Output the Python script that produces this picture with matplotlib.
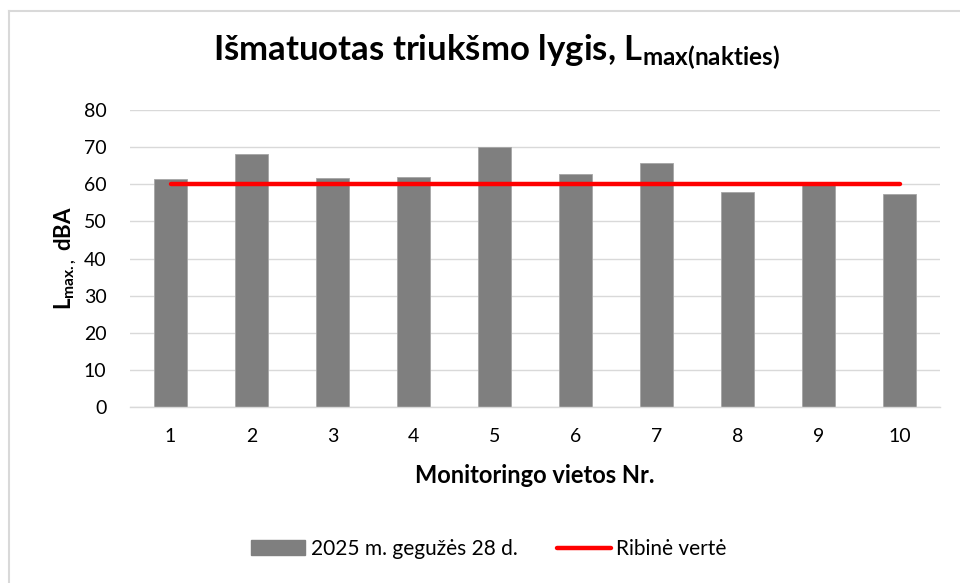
import matplotlib
matplotlib.use("Agg")
import matplotlib.pyplot as plt
from matplotlib.lines import Line2D

plt.rcParams['font.family'] = ['Lato', 'DejaVu Sans']
plt.rcParams['mathtext.fontset'] = 'custom'
plt.rcParams['mathtext.rm'] = 'Lato'
plt.rcParams['mathtext.bf'] = 'Lato:bold'
plt.rcParams['mathtext.it'] = 'Lato:italic'

categories = ['1', '2', '3', '4', '5', '6', '7', '8', '9', '10']
measured = [61.5, 68.1, 61.7, 62.0, 69.9, 62.8, 65.8, 57.8, 60.2, 57.4]
limit = [60, 60, 60, 60, 60, 60, 60, 60, 60, 60]
yticks = [0, 10, 20, 30, 40, 50, 60, 70, 80]

W, H = 960, 583
fig = plt.figure(figsize=(W / 100, H / 100), dpi=100)
ax = fig.add_axes([130 / W, 1 - 407 / H, 810 / W, 297 / H])

x = list(range(len(categories)))
ax.bar(x, measured, width=0.40, color='#7f7f7f', edgecolor='#a6a6a6', linewidth=0.6, zorder=2,
       label='2025 m. gegužės 28 d.')
ax.plot(x, limit, color='#ff0000', linewidth=3.2, solid_capstyle='round', zorder=3, label='Ribinė vertė')

ax.set_xlim(-0.5, len(categories) - 0.5)
ax.set_ylim(0, 80)
ax.set_yticks(yticks)
ax.set_xticks(x)
ax.set_xticklabels(categories)
ax.tick_params(axis='both', length=0, labelsize=14, colors='black')
ax.tick_params(axis='y', pad=17)
ax.tick_params(axis='x', pad=15)
ax.grid(axis='y', color='#d9d9d9', linewidth=1.0, zorder=0)
ax.set_axisbelow(True)
for s in ['top', 'right', 'left']:
    ax.spines[s].set_visible(False)
ax.spines['bottom'].set_color('#d9d9d9')
ax.spines['bottom'].set_linewidth(1.0)

ax.set_xlabel('Monitoringo vietos Nr.', fontsize=17, fontweight='bold', labelpad=14)
ax.set_ylabel(r'L$_{\mathbf{max.,}}$ dBA', fontsize=16, fontweight='bold', labelpad=4)

fig.text(496 / W, 1 - 52 / H, r'Išmatuotas triukšmo lygis, L$_{\mathbf{max(nakties)}}$',
         ha='center', va='center', fontsize=25, fontweight='bold')

handles = [plt.Rectangle((0, 0), 1, 1, color='#7f7f7f'),
           Line2D([0], [0], color='#ff0000', linewidth=3.2, solid_capstyle='round')]
fig.legend(handles, ['2025 m. gegužės 28 d.', 'Ribinė vertė'], loc='center',
           bbox_to_anchor=(489 / W, 1 - 549 / H), ncol=2, frameon=False, fontsize=15,
           handlelength=2.6, handleheight=0.7, handletextpad=0.25, columnspacing=1.9)

# chart border (top and left)
fig.add_artist(Line2D([9 / W, 1], [1 - 11 / H, 1 - 11 / H], color='#d9d9d9', linewidth=1.5))
fig.add_artist(Line2D([9 / W, 9 / W], [0, 1 - 11 / H], color='#d9d9d9', linewidth=1.5))

fig.savefig('out.png', dpi=100)
